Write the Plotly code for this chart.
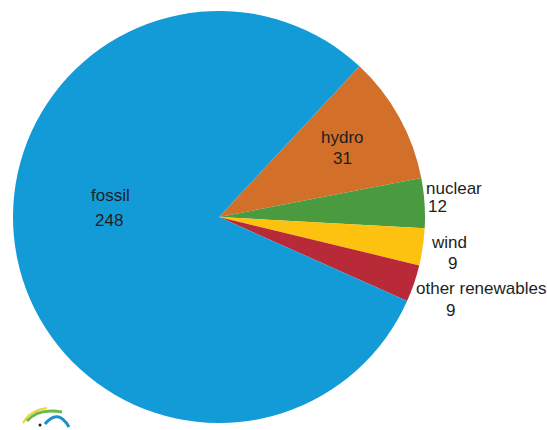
import plotly.graph_objects as go

# Electricity generation by source
sources = ["hydro", "nuclear", "wind", "other renewables", "fossil"]
generation = [31, 12, 9, 9, 248]
colors = ["#d2702a", "#4a9b40", "#fdc20f", "#b82a38", "#139bd8"]

W, H = 547, 430
cx, cy, r = 219, 217, 206  # pie centre and radius in pixels

# where each slice's name / value is written (pixel positions, x and y of text centre)
name_pos = [(342, 137), (454, 188), (449, 242), (481, 288), (110, 196)]
value_pos = [(342, 158), (437, 206), (452, 263), (450, 310), (109, 220)]

FONT = dict(family="Liberation Sans, Arial, sans-serif", size=17, color="#1e1e1e")

fig = go.Figure(
    go.Pie(
        labels=sources,
        values=generation,
        sort=False,
        direction="clockwise",
        rotation=43,
        marker=dict(colors=colors, line=dict(width=0)),
        textinfo="none",
        domain=dict(
            x=[(cx - r) / W, (cx + r) / W],
            y=[(H - cy - r) / H, (H - cy + r) / H],
        ),
        hoverinfo="skip",
        showlegend=False,
    )
)


def px(x, y):
    return x / W, 1 - y / H


annotations = []
for name, val, (nx, ny), (vx, vy) in zip(sources, generation, name_pos, value_pos):
    for txt, (x, y) in ((name, (nx, ny)), (str(val), (vx, vy))):
        ax, ay = px(x, y)
        annotations.append(dict(
            text=txt, x=ax, y=ay, xref="paper", yref="paper",
            xanchor="center", yanchor="middle", showarrow=False, font=FONT,
        ))


def arc(p0, p1, p2, color, width):
    (x0, y0), (x1, y1), (x2, y2) = px(*p0), px(*p1), px(*p2)
    return dict(
        type="path", xref="paper", yref="paper",
        path=f"M {x0},{y0} Q {x1},{y1} {x2},{y2}",
        line=dict(color=color, width=width),
    )


# small logo in the lower-left corner
shapes = [
    arc((23, 423), (30, 410), (47, 408), "#e8d63a", 2),
    arc((27, 421), (38, 408), (62, 412), "#6cb94a", 3),
    arc((45, 424), (58, 408), (69, 427), "#1f8fc8", 3),
]
dx, dy = px(40, 425)
shapes.append(dict(type="circle", xref="paper", yref="paper",
                   x0=dx - 1.5 / W, x1=dx + 1.5 / W, y0=dy - 1.5 / H, y1=dy + 1.5 / H,
                   fillcolor="#222", line=dict(width=0)))

fig.update_layout(
    width=W, height=H,
    margin=dict(l=0, r=0, t=0, b=0),
    paper_bgcolor="white",
    plot_bgcolor="white",
    shapes=shapes,
    annotations=annotations,
)

fig.write_html("out.html")
